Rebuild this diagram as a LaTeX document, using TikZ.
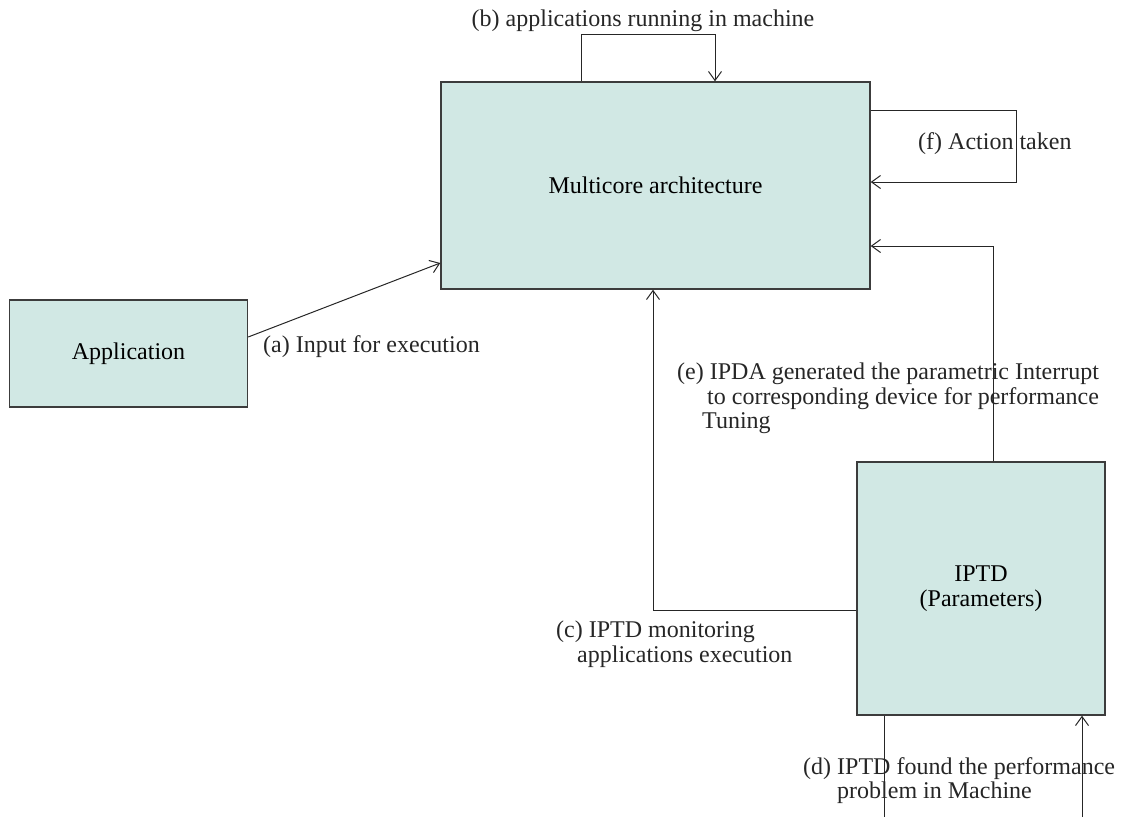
\documentclass[tikz,border=0pt]{standalone}
\usepackage{fontspec}
\setmainfont{Liberation Serif}
\usetikzlibrary{arrows.meta}
\definecolor{boxfill}{HTML}{D1E8E4}
\definecolor{edgegray}{HTML}{3C3C3C}
\tikzset{
  box/.style={draw=edgegray, line width=1.4pt, fill=boxfill, align=center},
  lbl/.style={inner sep=0pt, align=left, text=black!85},
  wire/.style={draw=black!85, line width=1pt}
}

\begin{document}
\begin{tikzpicture}[x=1pt, y=-1pt, font=\fontsize{24}{24.5}\selectfont,
  >={Straight Barb[length=9pt,width=13pt]}]
\useasboundingbox (0,0) rectangle (1129,817);

%boxes
\node[box, minimum width=429pt, minimum height=207pt] (multi) at (655.5,185.5) {Multicore architecture};
\node[box, minimum width=238pt, minimum height=107pt] (app) at (128.5,353.5) {Application};
\node[box, minimum width=248pt, minimum height=253pt] (iptd) at (981,588.5) {IPTD\\(Parameters)};

%corner points
\coordinate (a1) at (0,337);
\coordinate (a2) at (0,263);
\coordinate (b1) at (581,34);
\coordinate (b2) at (715,34);
\coordinate (f1) at (1016,110);
\coordinate (f2) at (1016,182);
\coordinate (e1) at (993,246);
\coordinate (c1) at (653,610);
\coordinate (d1) at (884,817);
\coordinate (d2) at (1082,817);

%connectors
\draw[wire,->] (app.east |- a1) -- (multi.west |- a2);
\draw[wire,->] (multi.north -| b1) -- (b1) -- (b2) -- (multi.north -| b2);
\draw[wire,->] (multi.east |- f1) -- (f1) -- (f2) -- (multi.east |- f2);
\draw[wire,->] (iptd.north -| e1) -- (e1) -- (multi.east |- e1);
\draw[wire,->] (iptd.west |- c1) -- (c1) -- (multi.south -| c1);
\draw[wire] (iptd.south -| d1) -- (d1);
\draw[wire,->] (d2) -- (iptd.south -| d2);

%labels
\node[lbl, anchor=base west] (la) at (263,352) {(a) Input for execution};
\node[lbl, anchor=base] (lb) at (643,26) {(b) applications running in machine};
\node[lbl, anchor=base west] (lf) at (918,149) {(f) Action taken};
\node[lbl, anchor=north west] (le) at (677,363) {(e) IPDA generated the parametric Interrupt\\
  \hspace*{30pt}to corresponding device for performance\\
  \hspace*{25pt}Tuning};
\node[lbl, anchor=north west] (lc) at (556,621) {(c) IPTD monitoring\\
  \hspace*{21pt}applications execution};
\node[lbl, anchor=north west] (ld) at (803,757) {(d) IPTD found the performance\\
  \hspace*{34pt}problem in Machine};

\end{tikzpicture}
\end{document}
